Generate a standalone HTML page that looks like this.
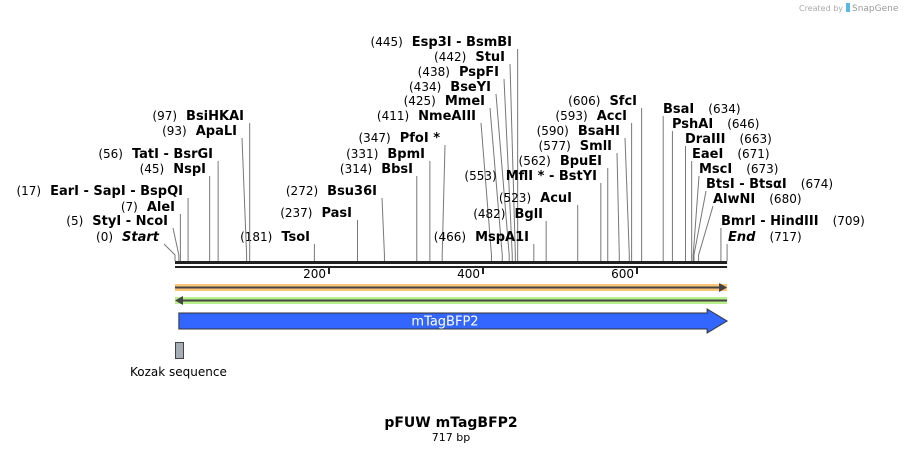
<!DOCTYPE html>
<html><head><meta charset="utf-8"><style>
html,body{margin:0;padding:0;background:#fff;}
svg{display:block;font-family:"DejaVu Sans","Liberation Sans",sans-serif;}
</style></head><body>
<svg id="map" width="904" height="453" viewBox="0 0 904 453" xmlns="http://www.w3.org/2000/svg">
<text x="843" y="11" font-size="8" fill="#aaa" text-anchor="end">Created by</text>
<rect x="846" y="3" width="4" height="9" fill="#5ab8e8"/>
<text x="852" y="11" font-size="9" fill="#999">SnapGene</text>
<g id="sites"></g>
<g id="axis"></g>
<g id="features"></g>
<text x="451" y="427" font-size="14" font-weight="bold" text-anchor="middle" fill="#000">pFUW mTagBFP2</text>
<text x="451" y="441" font-size="11" text-anchor="middle" fill="#000">717 bp</text>
</svg>
<script>
const seqLen = 717;
const sitePos = [445,442,438,434,425,411,347,331,314,272,237,181,466,482,523,553,562,577,590,593,606,97,93,56,45,17,7,5,0,634,646,663,671,673,674,680,709,717];
const siteNames = ["Esp3I  - BsmBI","StuI","PspFI","BseYI","MmeI","NmeAIII","PfoI *","BpmI","BbsI","Bsu36I","PasI","TsoI","MspA1I","BglI","AcuI","MflI * - BstYI","BpuEI","SmlI","BsaHI","AccI","SfcI","BsiHKAI","ApaLI","TatI  - BsrGI","NspI","EarI  - SapI  - BspQI","AleI","StyI  - NcoI","Start","BsaI","PshAI","DraIII","EaeI","MscI","BtsI  - BtsαI","AlwNI","BmrI  - HindIII","End"];
const axisTicks = [200,400,600];
// layout: label baseline y, label x (end for left, start for right), side
const labelY = [46,61,76,91,105,120,142,158,173,195,217,241,241,218,202,180,165,150,135,120,105,120,135,158,173,195,211,225,241,113,128,143,158,173,188,203,225,241];
const labelX = [512,505,499,491,485,476,440,425,413,377,352,310,529,543,572,597,602,612,620,627,637,244,237,213,206,183,175,168,159,663,672,685,692,699,706,713,721,728];
const labelSide = "LLLLLLLLLLLLLLLLLLLLLLLLLLLLLRRRRRRRRR";

const NS="http://www.w3.org/2000/svg";
const x = bp => 175 + bp*(329-175)/200;
const BASE = 261;
function mk(tag, attrs, parent){const e=document.createElementNS(NS,tag);for(const k in attrs)e.setAttribute(k,attrs[k]);parent.appendChild(e);return e;}
const sites=document.getElementById('sites');
for(let i=0;i<sitePos.length;i++){
  const g=mk('g',{},sites);
  
  
  const sx=x(sitePos[i]);
  const right=labelSide[i]==='R';
  const lx = right ? labelX[i] : labelX[i]+5;
  const topY = labelY[i]+3;
  let d;
  if(Math.abs(lx-sx)<2) d=`M${sx},${BASE} L${sx},${topY}`;
  else d=`M${sx},${BASE} L${sx},${BASE-6} L${lx},${topY}`;
  mk('path',{d:d,stroke:'#777',fill:'none','stroke-width':1},g);
  const italic = siteNames[i]==='Start'||siteNames[i]==='End';
  const t=mk('text',{y:labelY[i],'font-size':13,fill:'#000','xml:space':'preserve'},g);
  if(right){
    const a=mk('tspan',{'font-weight':'bold','font-style':italic?'italic':'normal'},t);a.textContent=siteNames[i];
    const b=mk('tspan',{'font-size':12,'font-weight':'normal',dx:14},t);b.textContent='('+sitePos[i]+')';
    t.setAttribute('x',labelX[i]);
  } else {
    const num=mk('tspan',{'font-size':12,'font-weight':'normal'},t);
    num.textContent='('+sitePos[i]+')';
    const nm=mk('tspan',{'font-weight':'bold','font-style':italic?'italic':'normal',dx:9},t);
    nm.textContent=siteNames[i];
    t.setAttribute('x',labelX[i]);t.setAttribute('text-anchor','end');
  }
}
const axis=document.getElementById('axis');
const bb=mk('g',{},axis);


mk('rect',{x:x(0),y:BASE,width:x(seqLen)-x(0),height:3,fill:'#222'},bb);
mk('rect',{x:x(0),y:BASE+5,width:x(seqLen)-x(0),height:2,fill:'#222'},bb);
axisTicks.forEach(v=>{
  const g=mk('g',{},axis);
  
  
  mk('rect',{x:x(v)-1,y:BASE+5,width:2,height:8,fill:'#222'},g);
  const t=mk('text',{x:x(v)-3,y:BASE+17,'font-size':12,'text-anchor':'end',fill:'#000'},g);t.textContent=v;
});
const f=document.getElementById('features');
const o=mk('g',{},f);


mk('rect',{x:x(0),y:284,width:x(seqLen)-x(0),height:7,fill:'#fdc57a'},o);
mk('line',{x1:x(0),y1:287.5,x2:x(seqLen)-4,y2:287.5,stroke:'#444','stroke-width':2},o);
mk('path',{d:`M${x(seqLen)-8},283 L${x(seqLen)},287.5 L${x(seqLen)-8},292Z`,fill:'#444'},o);
const gr=mk('g',{},f);


mk('rect',{x:x(0),y:297,width:x(seqLen)-x(0),height:7,fill:'#b8f08a'},gr);
mk('line',{x1:x(0)+4,y1:300.5,x2:x(seqLen),y2:300.5,stroke:'#444','stroke-width':2},gr);
mk('path',{d:`M${x(0)+8},296 L${x(0)},300.5 L${x(0)+8},305Z`,fill:'#444'},gr);
const bl=mk('g',{},f);


const b0=x(5),b1=x(seqLen);
mk('path',{d:`M${b0},313 L${b1-20},313 L${b1-20},309 L${b1},321 L${b1-20},333 L${b1-20},329 L${b0},329Z`,fill:'#3366ff',stroke:'#333','stroke-width':1},bl);
const bt=mk('text',{x:(b0+b1)/2-8,y:325.5,'font-size':13,fill:'#fff','text-anchor':'middle'},bl);bt.textContent='mTagBFP2';
const kz=mk('g',{},f);


mk('rect',{x:175.5,y:342.5,width:8,height:16,fill:'#a6adb4',stroke:'#444','stroke-width':1},kz);
const kt=mk('text',{x:130,y:376,'font-size':12,fill:'#000'},kz);kt.textContent='Kozak sequence';
</script>
</body></html>
